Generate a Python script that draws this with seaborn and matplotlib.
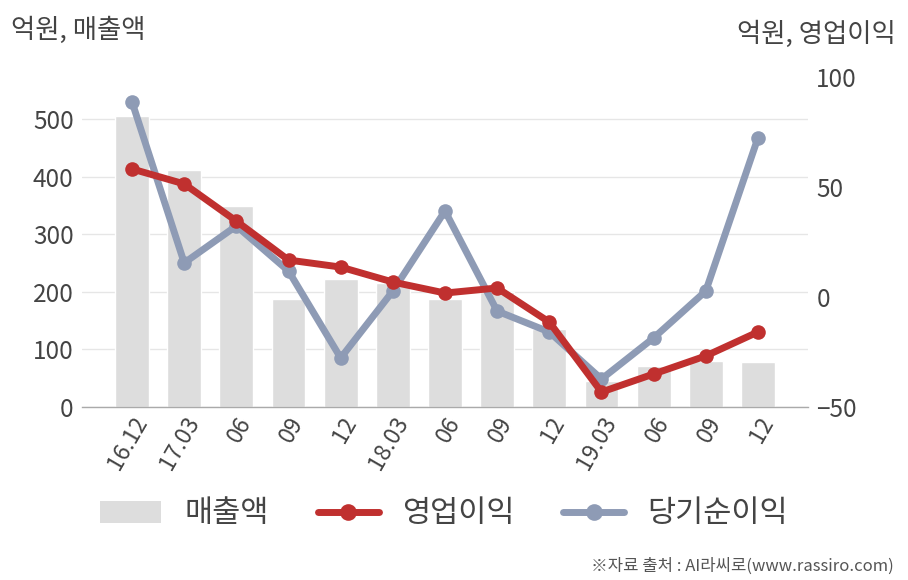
import matplotlib
matplotlib.use("Agg")
import matplotlib.pyplot as plt
import seaborn as sns
import pandas as pd
import numpy as np
from matplotlib.lines import Line2D
from matplotlib.patches import Patch

periods = ["16.12", "17.03", "06", "09", "12", "18.03", "06", "09", "12", "19.03", "06", "09", "12"]
sales = [505, 411, 349, 187, 222, 215, 187, 200, 135, 45, 71, 80, 78]
op_profit = [58.2, 51.4, 34.5, 16.8, 13.6, 6.8, 1.8, 4.1, -11.4, -43.2, -35.0, -26.8, -15.9]
net_profit = [88.6, 15.5, 32.3, 11.8, -27.7, 2.7, 39.1, -6.4, -15.9, -37.3, -18.6, 2.7, 72.3]

sns.set_theme(style="white")
plt.rcParams['font.family'] = ['Noto Sans CJK KR', 'DejaVu Sans']

BAR = "#DDDDDD"
RED = "#C0302F"
BLUE = "#8E9BB5"
TXT = "#444444"

fig = plt.figure(figsize=(9.08, 5.8), dpi=100)
ax = fig.add_axes([82/908, 1-407/580, (808-82)/908, (407-77)/580])

idx = list(range(len(periods)))
df = pd.DataFrame({"idx": idx, "sales": sales, "op": op_profit, "net": net_profit})

sns.barplot(data=df, x="idx", y="sales", color=BAR, width=0.65, ax=ax, zorder=2,
            saturation=1)
ax.set_ylim(0, 573)
ax.set_xlim(-0.96, 12.96)
ax.set_yticks([0, 100, 200, 300, 400, 500])
ax.yaxis.grid(True, color="#E6E6E6", linewidth=1)
ax.set_axisbelow(True)
ax.set_xticks(idx)
ax.set_xticklabels(periods, rotation=60, ha="right", rotation_mode="anchor")
ax.tick_params(axis="x", labelsize=16.5, colors=TXT, pad=4, length=0)
ax.tick_params(axis="y", labelsize=17.5, colors=TXT, pad=6, length=0)
ax.set_xlabel("")
ax.set_ylabel("")
for s in ["top", "right", "left"]:
    ax.spines[s].set_visible(False)
ax.spines["bottom"].set_color("#AAAAAA")
ax.spines["bottom"].set_linewidth(1)

ax2 = ax.twinx()
sns.lineplot(data=df, x="idx", y="net", color=BLUE, linewidth=5, marker="o",
             markersize=10.5, markeredgewidth=0, ax=ax2, zorder=3)
sns.lineplot(data=df, x="idx", y="op", color=RED, linewidth=5, marker="o",
             markersize=10.5, markeredgewidth=0, ax=ax2, zorder=4)
ax2.set_ylim(-50, 100)
ax2.set_xlim(-0.96, 12.96)
ax2.set_yticks([-50, 0, 50, 100])
ax2.tick_params(axis="y", labelsize=17.5, colors=TXT, pad=6, length=0)
ax2.set_ylabel("")
ax2.set_xlabel("")
for s in ["top", "right", "left", "bottom"]:
    ax2.spines[s].set_visible(False)
ax2.grid(False)

fig.text(11/908, 1-30/580, "억원, 매출액", fontsize=19, color=TXT, va="center", ha="left")
fig.text(896/908, 1-34/580, "억원, 영업이익", fontsize=19, color=TXT, va="center", ha="right")

handles = [
    Patch(facecolor=BAR, edgecolor="none"),
    Line2D([0], [0], color=RED, linewidth=5, marker="o", markersize=12, markeredgewidth=0),
    Line2D([0], [0], color=BLUE, linewidth=5, marker="o", markersize=12, markeredgewidth=0),
]
fig.legend(handles, ["매출액", "영업이익", "당기순이익"], loc="center",
           bbox_to_anchor=(444/908, 1-514/580), ncol=3, frameon=False,
           fontsize=22, labelcolor=TXT, handlelength=2.0, handleheight=0.7,
           columnspacing=1.6, handletextpad=0.75)

fig.text(894/908, 1-566/580, "※자료 출처 : AI라씨로(www.rassiro.com)", fontsize=12,
         color="#555555", ha="right", va="center")

fig.savefig("out.png", dpi=100, facecolor="white")
